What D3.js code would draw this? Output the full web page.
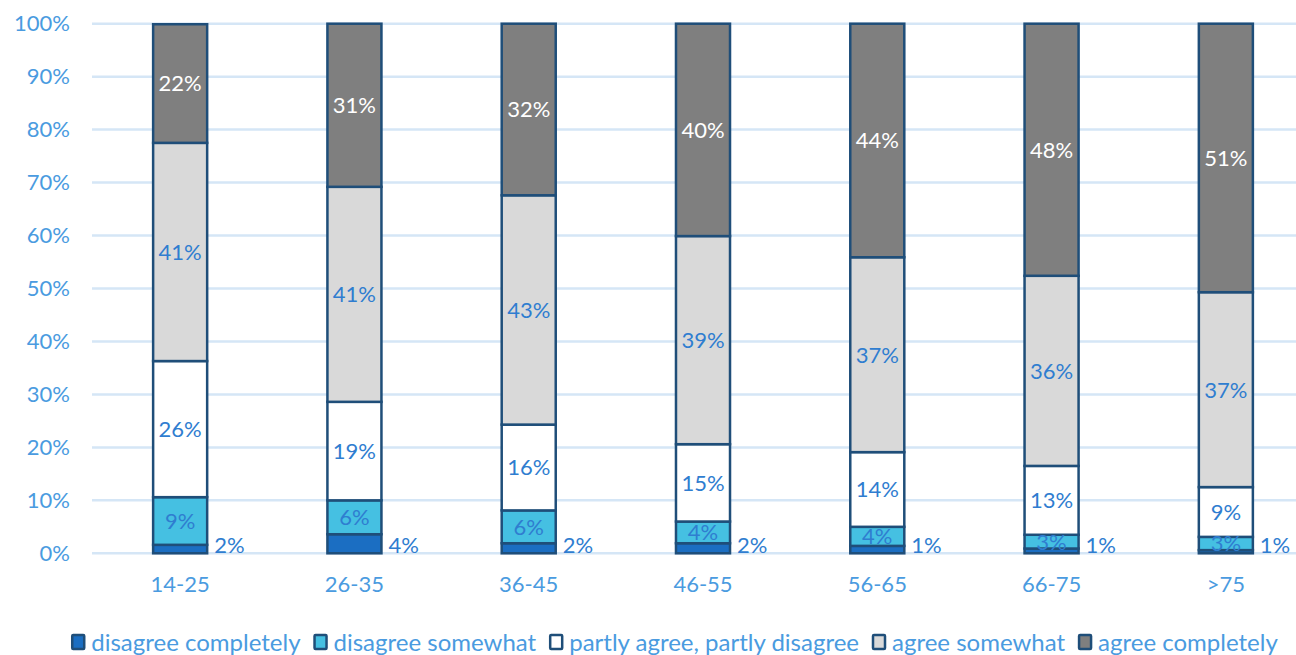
<!DOCTYPE html>
<html>
<head>
<meta charset="utf-8">
<script src="https://cdn.jsdelivr.net/npm/d3@7/dist/d3.min.js"></script>
<style>
  html, body { margin: 0; padding: 0; background: #ffffff; }
  svg { display: block; font-family: Lato, "Open Sans", sans-serif; }
</style>
</head>
<body>
<svg id="chart" width="1296" height="655"></svg>
<script>
// Age groups along the x axis
const categories = ["14-25", "26-35", "36-45", "46-55", "56-65", "66-75", ">75"];

// Answer levels, bottom to top of each stacked bar
const seriesNames = [
  "disagree completely",
  "disagree somewhat",
  "partly agree, partly disagree",
  "agree somewhat",
  "agree completely"
];

// Share of respondents (%) per age group
const disagreeCompletely = [1.6, 3.6, 1.9, 1.9, 1.4, 0.9, 0.6];
const disagreeSomewhat   = [9.0, 6.4, 6.2, 4.1, 3.6, 2.6, 2.5];
const partlyAgree        = [25.7, 18.6, 16.2, 14.6, 14.1, 13.0, 9.4];
const agreeSomewhat      = [41.2, 40.6, 43.3, 39.3, 36.8, 35.9, 36.8];
const agreeCompletely    = [22.4, 30.8, 32.4, 40.1, 44.1, 47.6, 50.7];

// Y axis ticks (%)
const yTicks = [0, 10, 20, 30, 40, 50, 60, 70, 80, 90, 100];

const seriesValues = [disagreeCompletely, disagreeSomewhat, partlyAgree, agreeSomewhat, agreeCompletely];
const fills = ["#1b6ec2", "#45c0e2", "#ffffff", "#d9d9d9", "#7f7f7f"];
const labelColors = ["#2f7dd0", "#2f7dd0", "#2f7dd0", "#2f7dd0", "#ffffff"];
const axisColor = "#4a9be0";
const strokeColor = "#1f4e79";

const rows = categories.map((c, i) => {
  const r = { category: c };
  seriesNames.forEach((s, j) => { r[s] = seriesValues[j][i]; });
  return r;
});

const svg = d3.select("#chart");

const x = d3.scaleBand()
  .domain(categories)
  .range([93, 1313])
  .paddingInner(0.69)
  .paddingOuter(0.345);

const y = d3.scaleLinear()
  .domain([0, 100])
  .range([553.3, 23.7]);

// Horizontal gridlines
svg.append("g")
  .selectAll("line")
  .data(yTicks)
  .join("line")
  .attr("x1", 92)
  .attr("x2", 1296)
  .attr("y1", d => y(d))
  .attr("y2", d => y(d))
  .attr("stroke", "#d5e6f6")
  .attr("stroke-width", 2.5);

// Y axis labels
const yAxis = svg.append("g")
  .attr("transform", "translate(70,0)")
  .call(d3.axisLeft(y).tickValues(yTicks).tickSize(0).tickPadding(0).tickFormat(d => d + "%"));
yAxis.select(".domain").remove();
yAxis.selectAll("text")
  .attr("fill", axisColor)
  .attr("font-size", 22)
  .attr("font-family", "Lato, sans-serif");

// X axis labels
const xAxis = svg.append("g")
  .attr("transform", "translate(0,576)")
  .call(d3.axisBottom(x).tickSize(0).tickPadding(0));
xAxis.select(".domain").remove();
xAxis.selectAll("text")
  .attr("fill", axisColor)
  .attr("font-size", 22)
  .attr("font-family", "Lato, sans-serif");

// Stacked bars
const stacked = d3.stack().keys(seriesNames)(rows);

const layers = svg.append("g")
  .selectAll("g")
  .data(stacked)
  .join("g")
  .attr("fill", (d, i) => fills[i]);

layers.selectAll("rect")
  .data(d => d)
  .join("rect")
  .attr("x", d => x(d.data.category))
  .attr("width", x.bandwidth())
  .attr("y", d => y(d[1]))
  .attr("height", d => y(d[0]) - y(d[1]))
  .attr("stroke", strokeColor)
  .attr("stroke-width", 2.5);

// Value labels
const fmt = v => Math.round(v) + "%";
const labels = svg.append("g")
  .attr("font-size", 22)
  .attr("font-family", "Lato, sans-serif");

stacked.forEach((layer, i) => {
  layer.forEach(d => {
    const v = d[1] - d[0];
    if (i === 0) {
      labels.append("text")
        .attr("x", x(d.data.category) + x.bandwidth() + 7)
        .attr("y", y(d[0]))
        .attr("text-anchor", "start")
        .attr("fill", labelColors[i])
        .text(fmt(v));
    } else {
      labels.append("text")
        .attr("x", x(d.data.category) + x.bandwidth() / 2)
        .attr("y", y((d[0] + d[1]) / 2))
        .attr("dy", "0.36em")
        .attr("text-anchor", "middle")
        .attr("fill", labelColors[i])
        .text(fmt(v));
    }
  });
});

// Legend
const legend = svg.append("g").attr("font-size", 24).attr("font-family", "Lato, sans-serif");
const legendY = 642;
const items = [];
seriesNames.forEach((name, i) => {
  const g = legend.append("g");
  g.append("rect")
    .attr("width", 12)
    .attr("height", 14)
    .attr("y", legendY - 7)
    .attr("fill", fills[i])
    .attr("stroke", strokeColor)
    .attr("stroke-width", 2.5)
    .attr("rx", 1);
  const t = g.append("text")
    .attr("x", 19)
    .attr("y", legendY)
    .attr("dy", "0.36em")
    .attr("fill", axisColor)
    .text(name);
  items.push({ g, w: 19 + t.node().getComputedTextLength() });
});
const gap = 14;
const total = d3.sum(items, d => d.w) + gap * (items.length - 1);
let cx = 675 - total / 2;
items.forEach(it => {
  it.g.attr("transform", `translate(${cx},0)`);
  cx += it.w + gap;
});
</script>
</body>
</html>
